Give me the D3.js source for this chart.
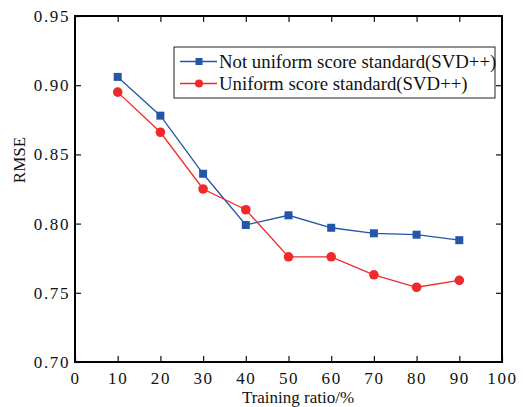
<!DOCTYPE html>
<html>
<head>
<meta charset="utf-8">
<script src="https://cdn.jsdelivr.net/npm/d3@7"></script>
<style>
  body { margin: 0; background: #fff; }
  svg text { font-family: "Liberation Serif", "Times New Roman", serif; fill: #111; }
</style>
</head>
<body>
<svg id="chart" width="523" height="407"></svg>
<script>
// training ratio (%)
const ratios = [10, 20, 30, 40, 50, 60, 70, 80, 90];
// RMSE, not uniform score standard (SVD++)
const notUniform = [0.906, 0.878, 0.836, 0.799, 0.806, 0.797, 0.793, 0.792, 0.788];
// RMSE, uniform score standard (SVD++)
const uniform = [0.895, 0.866, 0.825, 0.810, 0.776, 0.776, 0.763, 0.754, 0.759];
const xTicks = [0, 10, 20, 30, 40, 50, 60, 70, 80, 90, 100];
const yTicks = [0.70, 0.75, 0.80, 0.85, 0.90, 0.95];
const seriesNames = ["Not uniform score standard(SVD++)", "Uniform score standard(SVD++)"];

const pxLeft = 75, pxRight = 502, pxTop = 16, pxBottom = 362;
const svg = d3.select("#chart");

let scX = d3.scaleLinear().domain([0, 100]).range([pxLeft, pxRight]);
let scY = d3.scaleLinear().domain([0.70, 0.95]).range([pxBottom, pxTop]);

// axes, ticks pointing inward
const tickLen = 6;
svg.append("g").attr("class", "ax").attr("transform", `translate(0,${pxBottom})`)
    .call(d3.axisBottom(scX).tickValues(xTicks).tickSizeInner(-tickLen).tickSizeOuter(0).tickPadding(10)
        .tickFormat(d3.format("d")));
svg.append("g").attr("class", "ax").attr("transform", `translate(0,${pxTop})`)
    .call(d3.axisTop(scX).tickValues(xTicks.slice(1, -1)).tickSizeInner(-tickLen).tickSizeOuter(0).tickFormat(""));
svg.append("g").attr("class", "ax").attr("transform", `translate(${pxLeft},0)`)
    .call(d3.axisLeft(scY).tickValues(yTicks).tickSizeInner(-tickLen).tickSizeOuter(0).tickPadding(5)
        .tickFormat(d3.format(".2f")));
svg.append("g").attr("class", "ax").attr("transform", `translate(${pxRight},0)`)
    .call(d3.axisRight(scY).tickValues(yTicks.slice(1, -1)).tickSizeInner(-tickLen).tickSizeOuter(0).tickFormat(""));

svg.selectAll(".ax").attr("font-family", "Liberation Serif, serif").attr("font-size", 17);
svg.selectAll(".domain").remove();
svg.selectAll(".tick line").attr("stroke", "#111").attr("stroke-width", 1.2);
svg.selectAll(".tick text").attr("fill", "#111").style("letter-spacing", "1.6px");

// frame
svg.append("rect")
    .attr("x", pxLeft).attr("y", pxTop)
    .attr("width", pxRight - pxLeft).attr("height", pxBottom - pxTop)
    .attr("fill", "none").attr("stroke", "#000").attr("stroke-width", 2);

// axis titles
svg.append("text")
    .attr("x", 298).attr("y", 403)
    .attr("text-anchor", "middle").attr("font-size", 17)
    .text("Training ratio/%");
svg.append("text")
    .attr("transform", "translate(25,160) rotate(-90)")
    .attr("text-anchor", "middle").attr("font-size", 17)
    .text("RMSE");

const blue = "#2356a8", red = "#ee2a2d";

let lineMaker = d3.line()
    .x((d, i) => scX(ratios[i]))
    .y(d => scY(d));

// blue series: squares
let g1 = svg.append("g").attr("id", "ds1");
g1.append("path").attr("d", lineMaker(notUniform))
    .attr("fill", "none").attr("stroke", blue).attr("stroke-width", 1.3);
g1.selectAll("rect").data(notUniform).enter().append("rect")
    .attr("x", (d, i) => scX(ratios[i]) - 4).attr("y", d => scY(d) - 4)
    .attr("width", 8).attr("height", 8).attr("fill", blue);

// red series: circles
let g2 = svg.append("g").attr("id", "ds2");
g2.append("path").attr("d", lineMaker(uniform))
    .attr("fill", "none").attr("stroke", red).attr("stroke-width", 1.3);
g2.selectAll("circle").data(uniform).enter().append("circle")
    .attr("cx", (d, i) => scX(ratios[i])).attr("cy", d => scY(d))
    .attr("r", 4.8).attr("fill", red);

// legend
let lg = svg.append("g");
lg.append("rect").attr("x", 174).attr("y", 47).attr("width", 321).attr("height", 51)
    .attr("fill", "#fff").attr("stroke", "#222").attr("stroke-width", 1);
const legY = [61.5, 83.5];
const legColors = [blue, red];
seriesNames.forEach((name, i) => {
    lg.append("line").attr("x1", 180).attr("x2", 217).attr("y1", legY[i]).attr("y2", legY[i])
        .attr("stroke", legColors[i]).attr("stroke-width", 1.3);
    if (i === 0) {
        lg.append("rect").attr("x", 195.5).attr("y", legY[i] - 3.5).attr("width", 7).attr("height", 7)
            .attr("fill", blue);
    } else {
        lg.append("circle").attr("cx", 199).attr("cy", legY[i]).attr("r", 4).attr("fill", red);
    }
    lg.append("text").attr("x", 219).attr("y", legY[i] + 6).attr("font-size", 18.8)
        .text(name);
});
</script>
</body>
</html>
